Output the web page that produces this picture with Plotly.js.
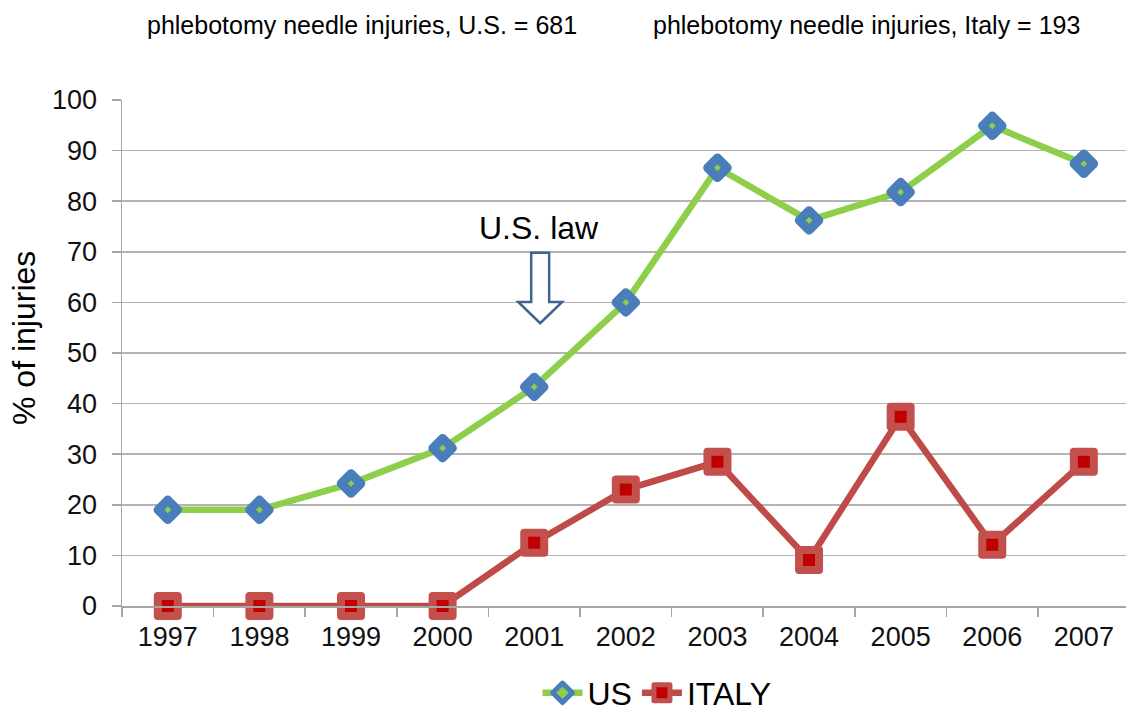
<!DOCTYPE html>
<html>
<head>
<meta charset="utf-8">
<script src="https://cdn.plot.ly/plotly-3.0.1.min.js"></script>
<style>
html,body{margin:0;padding:0;background:#fff;}
#chart{width:1126px;height:711px;}
.scatterlayer .point, .legendpoints path{stroke-linejoin:round !important;}
</style>
</head>
<body>
<div id="chart"></div>
<script>
const years = ["1997","1998","1999","2000","2001","2002","2003","2004","2005","2006","2007"];
const usValues = [19.0, 19.0, 24.2, 31.2, 43.3, 60.0, 86.6, 76.2, 81.8, 94.9, 87.4];
const italyValues = [0, 0, 0, 0, 12.5, 23.0, 28.5, 9.1, 37.4, 12.1, 28.5];
const yTicks = [0,10,20,30,40,50,60,70,80,90,100];
const headerTexts = ["phlebotomy needle injuries, U.S. = 681", "phlebotomy needle injuries, Italy = 193"];
const yTitle = "% of injuries";

const font = "Arial, 'Liberation Sans', sans-serif";

const traces = [
  {
    x: years, y: usValues, name: "US", type: "scatter", mode: "lines+markers", cliponaxis: false,
    line: {color: "#8DCF4A", width: 6.5},
    marker: {symbol: "diamond", size: 15, color: "#8DCF4A", line: {color: "#4A7EBB", width: 9}}
  },
  {
    x: years, y: italyValues, name: "ITALY", type: "scatter", mode: "lines+markers", cliponaxis: false,
    line: {color: "#BE4B48", width: 6.5},
    marker: {symbol: "square", size: 20, color: "#C00000", line: {color: "#C4504D", width: 8}}
  }
];

// arrow geometry (data units around category index 4 = 2001)
const ax = 4.065, shaftHW = 0.098, headHW = 0.24;
const yTop = 69.8, yHead = 60.1, yTip = 55.9;
const arrowPath = `M ${ax-shaftHW} ${yTop} L ${ax+shaftHW} ${yTop} L ${ax+shaftHW} ${yHead} L ${ax+headHW} ${yHead} L ${ax} ${yTip} L ${ax-headHW} ${yHead} L ${ax-shaftHW} ${yHead} Z`;

const layout = {
  width: 1126, height: 711,
  margin: {l: 122, r: 0, t: 100, b: 105},
  paper_bgcolor: "#fff", plot_bgcolor: "#fff",
  font: {family: font, color: "#000"},
  showlegend: true,
  legend: {orientation: "h", xref: "container", yref: "container", x: 657/1126, xanchor: "center",
           y: 18/711, yanchor: "middle",
           font: {size: 32, family: font, color: "#000"}, itemwidth: 40, tracegroupgap: 0},
  xaxis: {
    type: "category", range: [-0.5, 10.46],
    showgrid: false, showline: true, linecolor: "#A6A6A6", linewidth: 1.5,
    ticks: "outside", tickson: "boundaries", ticklen: 9, tickcolor: "#A6A6A6", tickwidth: 1.5,
    ticklabelstandoff: 6,
    tickfont: {size: 27, family: font, color: "#111"}, fixedrange: true
  },
  yaxis: {
    range: [0, 100], tickvals: yTicks, ticktext: yTicks.map(String),
    showgrid: true, gridcolor: "#B3B3B3", gridwidth: 1.5, zeroline: false,
    showline: true, linecolor: "#A6A6A6", linewidth: 1.5,
    ticks: "outside", ticklen: 9, tickcolor: "#A6A6A6", tickwidth: 1.5,
    ticklabelstandoff: 9,
    tickfont: {size: 27, family: font, color: "#111"}
  },
  shapes: [
    {type: "path", xref: "x", yref: "y", path: arrowPath, line: {color: "#41648F", width: 2.5}, fillcolor: "#fff"}
  ],
  annotations: [
    {xref: "paper", yref: "paper", x: (362-122)/1004, y: (606-25)/506, text: headerTexts[0], showarrow: false,
     font: {size: 25, family: font, color: "#000"}, xanchor: "center", yanchor: "middle"},
    {xref: "paper", yref: "paper", x: (866-122)/1004, y: (606-25)/506, text: headerTexts[1], showarrow: false,
     font: {size: 25, family: font, color: "#000"}, xanchor: "center", yanchor: "middle"},
    {xref: "x", yref: "y", x: 4.055, y: 74.7, text: "U.S. law", showarrow: false,
     font: {size: 32, family: font, color: "#000"}, xanchor: "center", yanchor: "middle"},
    {xref: "paper", yref: "paper", x: (24-122)/1004, y: (606-338)/506, text: yTitle, showarrow: false,
     textangle: -90, font: {size: 32, family: font, color: "#000"}, xanchor: "center", yanchor: "middle"}
  ]
};

Plotly.newPlot("chart", traces, layout, {displayModeBar: false, staticPlot: true});
</script>
</body>
</html>
